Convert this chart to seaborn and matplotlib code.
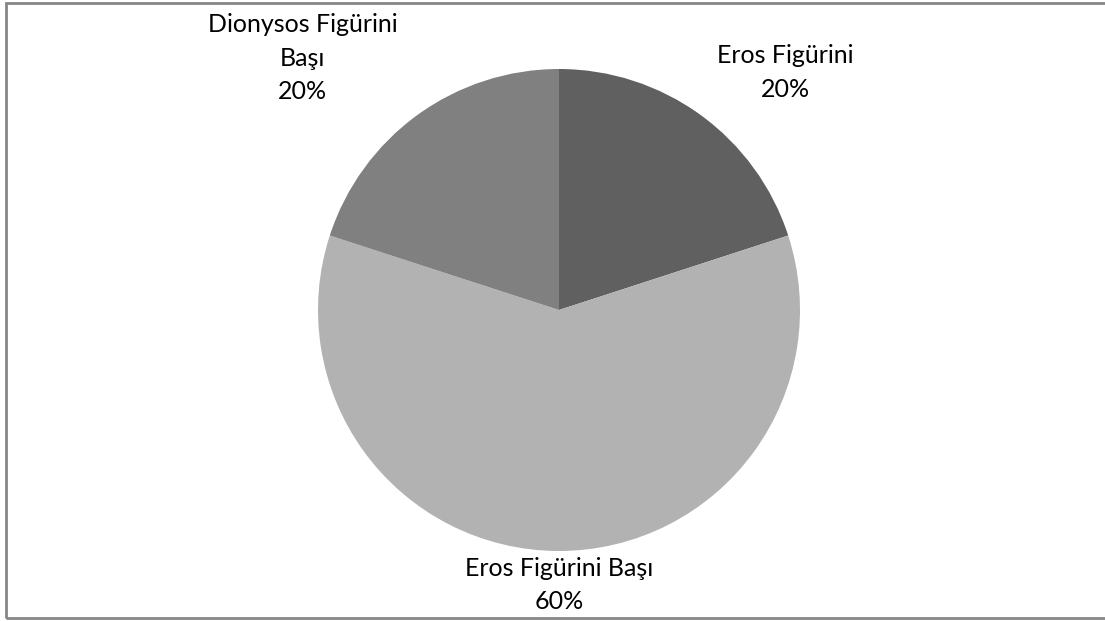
import matplotlib
matplotlib.use("Agg")
import matplotlib.pyplot as plt
import seaborn as sns
from matplotlib.patches import Rectangle

# slices, clockwise from 12 o'clock
labels = ["Eros Figürini", "Eros Figürini Başı", "Dionysos Figürini\nBaşı"]
percent = [20, 60, 20]
colors = ["#606060", "#b2b2b2", "#808080"]

# label centres in pie-radius units (Excel places them by hand)
label_pos = [(0.94, 0.985), (0.0, -1.14), (-1.065, 1.045)]

sns.set_theme(style="white")
plt.rcParams["font.family"] = ["Lato", "DejaVu Sans"]

fig = plt.figure(figsize=(11.05, 6.21), dpi=100)
fig.patch.set_facecolor("white")

# outer chart border (right side is cut off in the reference)
fig.patches.append(Rectangle((5.5 / 1105, 3 / 621), 1.2, 615 / 621,
                             transform=fig.transFigure, fill=False,
                             edgecolor="#868686", linewidth=2))

ax = fig.add_axes([(559 - 241) / 1105, (621 - 310 - 241) / 621, 482 / 1105, 482 / 621])
wedges, texts = ax.pie(percent, colors=colors, startangle=90, counterclock=False,
                       labels=[f"{l}\n{p}%" for l, p in zip(labels, percent)],
                       wedgeprops=dict(linewidth=0))
for t, (x, y) in zip(texts, label_pos):
    t.set_position((x, y))
    t.set_ha("center")
    t.set_va("center")
    t.set_multialignment("center")
    t.set_fontsize(18)
    t.set_color("#000000")
    t.set_linespacing(1.55)

ax.set_xlim(-1, 1)
ax.set_ylim(-1, 1)
ax.set_aspect("equal")
ax.axis("off")

fig.savefig("out.png", dpi=100)
